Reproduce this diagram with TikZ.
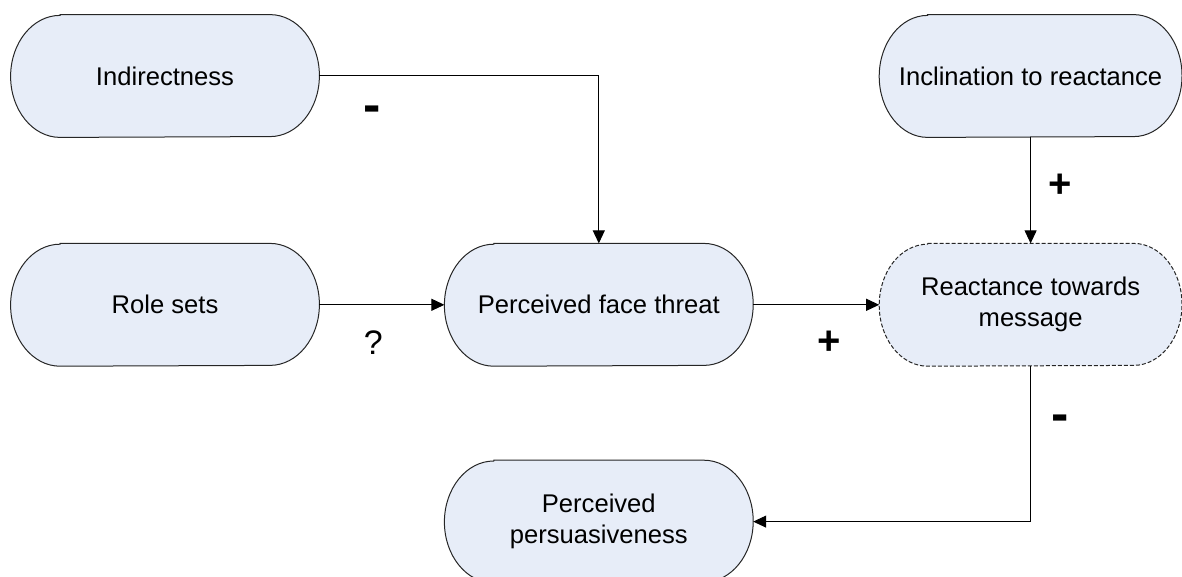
\documentclass[tikz,border=0pt]{standalone}
\usepackage{fontspec}
\setmainfont{Liberation Sans}
\usepackage{xcolor}
\usetikzlibrary{arrows.meta, positioning, calc, backgrounds}

\definecolor{boxfill}{RGB}{231,237,248}

% outline of a terminator box: straight top/bottom, half-ellipse ends
\newcommand{\drawstadium}[3][]{%
  \draw[outline, #1]
    ([xshift=#3]#2.north west) -- ([xshift=-#3]#2.north east)
    arc[start angle=90, end angle=-90, x radius=#3, y radius=30.5pt]
    -- ([xshift=#3]#2.south west)
    arc[start angle=270, end angle=90, x radius=#3, y radius=30.5pt]
    -- cycle;
}

\begin{document}
\begin{tikzpicture}[
  node distance=53pt and 62.5pt,
  factor/.style={
    rectangle,
    align=center,
    font=\fontsize{12.8}{15.5}\selectfont,
    minimum width=154pt,
    minimum height=61pt,
    inner sep=0pt,
  },
  outline/.style={draw=black!85, fill=boxfill, line width=0.5pt},
  arrow/.style={-{Triangle[length=6.5pt, width=6pt]}, line width=0.5pt},
  sign/.style={font=\fontsize{20}{20}\selectfont\bfseries, inner sep=0pt},
]
\useasboundingbox (0,0) rectangle (591pt,-288.5pt);

% ===== FACTOR NODES =====
\node[factor] (ind) at (82.5pt,-38pt) {Indirectness};
\node[factor, below=of ind] (role) {Role sets};
\node[factor, right=of role] (face) {Perceived face threat};
\node[factor, minimum width=151pt, right=63pt of face] (react) {Reactance towards\\message};
\node[factor, minimum width=151pt, above=of react] (incl) {Inclination to reactance};
\node[factor, below=47pt of face] (pers) {Perceived\\persuasiveness};

% ===== BOX OUTLINES (behind the text) =====
\begin{scope}[on background layer]
  \foreach \n in {ind, role, face, pers}
    \drawstadium{\n}{24.7pt};
  \drawstadium{incl}{24.2pt};
  \drawstadium[dash pattern=on 2pt off 1pt]{react}{24.2pt};
\end{scope}

% ===== CONNECTORS =====
\draw[arrow] (ind.east) -| (face.north);
\draw[arrow] (role) -- (face);
\draw[arrow] (face) -- (react);
\draw[arrow] (incl) -- (react);
\draw[arrow] (react.south) |- (pers.east);

% ===== SIGNS =====
\node[sign, font=\fontsize{26}{26}\selectfont\bfseries, below right=19pt and 26.5pt of ind.east, anchor=center] (s1) {-};
\node[sign, font=\fontsize{17}{17}\selectfont, below right=19pt and 27pt of role.east, anchor=center] (s2) {?};
\node[sign, below right=19pt and 38pt of face.east, anchor=center] (s3) {+};
\node[sign, below right=24pt and 15pt of incl.south, anchor=center] (s4) {+};
\node[sign, font=\fontsize{26}{26}\selectfont\bfseries, below right=28.5pt and 15pt of react.south, anchor=center] (s5) {-};

\end{tikzpicture}
\end{document}
